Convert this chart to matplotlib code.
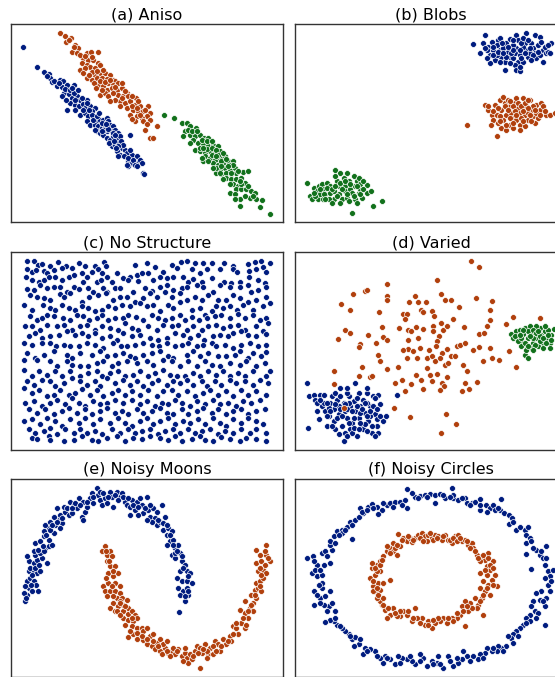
import numpy as np
import matplotlib
matplotlib.use("Agg")
import matplotlib.pyplot as plt

# point positions, in per-panel picture units
# (x to the right, y downward, frame box given in panel_box)

aniso_blue = [(68,140),(110,200),(132,217),(145,222),(148,235),(155,248),(180,240),(188,243),(170,258),(185,262),
    (200,255),(222,255),(190,280),(185,290),(205,283),(215,295),(230,290),(240,300),(210,310),(225,315),(200,332),
    (235,320),(250,312),(260,300),(255,325),(270,320),(285,325),(240,345),(255,340),(265,350),(275,335),(260,365),
    (280,355),(290,365),(300,360),(310,360),(320,355),(325,365),(270,375),(285,375),(295,380),(305,385),(315,380),
    (330,375),(340,380),(290,395),(300,400),(310,405),(320,395),(335,395),(345,390),(355,400),(320,415),(330,420),
    (340,410),(350,420),(360,410),(390,407),(335,440),(345,435),(355,430),(365,445),(375,450),(350,455),(360,465),
    (355,470),(380,460),(395,465),(410,470),(385,485),(395,490),(415,490),(420,480),(425,490),(385,500),(430,520),
    (432,525),
    (140,230),(160,245),(175,250),(195,268),(208,270),(220,280),(225,300),(245,295),(250,330),(262,310),(275,345),
    (278,360),(292,350),(305,370),(312,392),(325,388),(338,400),(345,405),(328,430),(342,425),(362,425),(370,435),
    (372,470),(385,475),(400,480),(405,495),(318,372),(298,340),(268,330),(232,270),(215,265),(198,300),(225,330),
    (285,390),(305,395),(355,440),(348,445),(390,450),(410,500),(380,495)]
aniso_orange = [(180,100),(195,107),(213,115),(197,125),(225,135),(232,145),(215,155),(230,158),(260,160),(272,157),
    (293,155),(250,175),(265,180),(280,180),(293,188),(245,190),(260,195),(270,200),(285,203),(300,195),(240,210),
    (300,220),(285,225),(315,220),(330,225),(260,235),(275,240),(290,235),(305,235),(320,238),(340,240),(345,245),
    (295,255),(310,258),(325,250),(340,255),(355,250),(320,270),(335,265),(350,270),(365,265),(380,280),(300,285),
    (315,280),(355,285),(370,290),(385,288),(408,295),(360,305),(375,310),(390,305),(405,315),(420,320),(445,320),
    (380,325),(400,330),(415,335),(430,335),(450,340),(390,345),(410,350),(440,350),(425,355),(405,365),(435,390),
    (470,380),(450,415),(460,415),
    (205,120),(220,140),(240,165),(255,168),(275,170),(255,205),(275,215),(292,212),(310,210),(268,225),(282,250),
    (300,245),(315,248),(330,240),(345,262),(305,270),(325,290),(340,280),(345,300),(365,295),(375,275),(360,320),
    (395,320),(410,325),(435,330),(420,345),(395,358),(430,365),(450,360),(440,372),(330,305),(395,290),(250,220),
    (288,265),(365,250),(415,305)]
aniso_green = [(493,346),(522,355),(545,370),(560,370),(570,380),(588,385),(555,395),(570,405),(585,410),(600,405),
    (612,415),(625,415),(550,410),(580,420),(595,430),(610,435),(625,440),(640,435),(655,440),(585,450),(600,455),
    (615,460),(630,455),(645,460),(660,455),(615,470),(630,475),(645,480),(660,475),(675,470),(610,485),(640,490),
    (655,495),(670,490),(685,485),(700,483),(660,510),(675,505),(690,510),(705,505),(650,520),(665,525),(680,520),
    (695,525),(710,520),(730,518),(745,515),(680,535),(695,540),(710,540),(725,535),(700,555),(715,560),(735,550),
    (710,570),(725,570),(740,570),(755,575),(765,580),(690,580),(705,583),(720,600),(750,595),(768,600),(788,603),
    (720,620),(782,623),(812,643),
    (565,390),(575,395),(590,395),(605,420),(620,425),(635,425),(570,430),(600,445),(620,448),(635,445),(650,450),
    (655,465),(670,460),(605,475),(625,485),(635,465),(650,470),(665,485),(680,478),(690,495),(650,505),(665,498),
    (700,495),(685,500),(715,515),(670,540),(725,555),(690,555),(745,560),(720,545),(735,590),(760,590),(705,598),
    (695,520),(640,505),(610,445),(660,520)]

blobs_blue = [(580,132),(615,105),(600,158),(610,130),(625,140),(635,125),(640,150),(630,165),(655,120),(660,115),
    (650,135),(660,150),(665,170),(645,180),(630,190),(680,130),(690,118),(695,140),(685,155),(690,170),(675,185),
    (700,175),(710,105),(715,120),(710,145),(705,160),(720,165),(715,185),(705,195),(708,210),(720,212),(740,100),
    (735,130),(740,150),(745,170),(730,185),(755,130),(760,145),(765,160),(770,175),(765,105),(780,110),(775,135),
    (790,150),(790,185),(800,160),(815,130),(805,155),(812,160),(620,175),(675,210),(730,140),(750,160),(700,135),
    (725,130),(650,165),(670,145),
    (620,150),(640,165),(655,155),(668,130),(680,170),(695,160),(700,120),(720,150),(725,175),(730,115),(745,120),
    (750,145),(760,165),(780,165),(785,125),(795,140),(660,185),(690,190),(720,200),(700,150),(640,140),(615,145),
    (775,155),(735,160),(685,140),(755,180),(805,135),(670,160)]
blobs_orange = [(560,375),(615,315),(625,330),(635,345),(640,360),(632,375),(650,410),(660,300),(670,292),(675,310),
    (665,330),(680,345),(670,360),(665,385),(685,300),(690,320),(695,340),(700,355),(690,375),(705,310),(715,325),
    (720,340),(710,360),(720,375),(730,295),(740,320),(735,345),(745,360),(735,380),(750,300),(755,330),(760,350),
    (765,370),(770,315),(780,330),(785,310),(790,320),(800,345),(810,345),(825,340),(700,385),(680,390),(655,370),
    (650,345),(725,355),(745,340),(760,320),(710,295),
    (625,320),(640,335),(645,315),(655,325),(660,350),(675,320),(685,330),(690,355),(700,320),(705,335),(710,345),
    (715,310),(725,320),(730,335),(735,310),(745,325),(750,345),(755,365),(770,340),(775,355),(780,345),(795,335),
    (765,330),(730,365),(700,370),(680,375),(660,365),(720,390),(745,300),(690,305)]
blobs_green = [(80,550),(90,590),(95,600),(100,565),(110,575),(115,560),(112,600),(125,555),(130,570),(135,585),
    (128,598),(140,550),(150,560),(150,580),(160,575),(160,600),(165,510),(170,545),(175,560),(175,585),(180,520),
    (185,600),(190,535),(195,560),(195,575),(200,595),(205,545),(210,570),(215,580),(215,642),(220,530),(225,560),
    (225,600),(230,545),(235,580),(240,570),(245,595),(235,535),(240,555),(260,580),(262,557),(272,576),(278,620),
    (307,606),(145,600),(120,585),
    (105,590),(118,570),(130,585),(140,565),(155,570),(165,560),(170,590),(180,550),(185,570),(195,545),(200,585),
    (210,555),(220,590),(230,560),(240,585),(250,570),(135,600),(155,610),(180,610),(205,605),(230,610),(250,545),
    (165,530),(200,520),(100,580)]

nostruct_blue = [
    (80,92),(100,92),(112,105),(125,103),(148,108),(172,97),(198,108),(235,100),(255,108),(285,107),(312,96),(318,108),
    (350,130),(405,105),(440,100),(465,110),(515,105),(543,97),(562,93),(585,100),(610,100),(635,100),(672,98),(700,108),
    (745,103),(765,97),(785,93),(790,110),(812,100),
    (80,118),(95,125),(108,120),(130,122),(140,128),(160,120),(185,115),(215,115),(245,130),(275,125),(295,118),(305,130),
    (370,145),(390,140),(410,135),(425,130),(445,128),(490,125),(530,115),(575,118),(600,128),(620,118),(660,118),
    (700,118),(712,125),(748,122),(770,118),(800,125),
    (78,142),(95,150),(115,155),(130,150),(145,142),(165,140),(185,150),(205,140),(220,135),(248,155),(260,140),(290,155),
    (302,150),(320,140),(335,155),(385,150),(415,152),(460,150),(480,140),(500,145),(520,142),(548,140),(565,155),
    (580,148),(605,155),(635,145),(672,155),(695,160),(720,155),(748,140),(775,150),(795,160),
    (80,178),(100,180),(120,165),(140,175),(160,170),(180,170),(200,185),(220,170),(238,178),(265,175),(280,185),(308,175),
    (320,185),(345,175),(360,175),(400,185),(435,175),(455,183),(480,172),(500,165),(520,180),(545,175),(560,172),
    (590,165),(610,170),(640,185),(660,165),(690,170),(720,170),(745,165),(755,185),(775,180),(800,170),
    (90,195),(110,200),(130,205),(148,210),(178,192),(190,200),(210,190),(245,215),(268,200),(295,195),(318,190),(340,210),
    (360,200),(380,200),(405,215),(428,205),(450,190),(470,200),(495,185),(515,200),(540,190),(562,210),(585,200),
    (605,210),(625,195),(655,210),(680,210),(700,195),(720,205),(745,218),(768,210),(800,200),(810,220),
    (72,225),(95,240),(128,225),(148,235),(165,240),(185,225),(205,235),(225,240),(245,228),(265,235),(285,245),(305,240),
    (325,230),(345,235),(365,225),(390,230),(420,220),(440,230),(460,225),(480,245),(505,225),(520,235),(540,215),
    (575,240),(600,235),(615,255),(635,245),(650,230),(670,235),(690,230),(712,240),(730,225),(760,240),(790,230),
    (90,260),(110,270),(125,265),(140,255),(160,260),(188,265),(210,270),(230,255),(250,260),(268,270),(290,265),(305,255),
    (325,270),(345,265),(368,265),(385,255),(408,262),(430,270),(455,255),(475,265),(495,270),(515,265),(540,255),
    (555,270),(575,262),(598,270),(620,265),(645,260),(665,255),(690,265),(715,252),(735,265),(760,255),(780,270),(800,265),
    (75,290),(95,290),(120,300),(140,285),(170,290),(190,285),(215,300),(240,290),(260,285),(285,300),(305,290),(330,295),
    (355,300),(375,280),(395,295),(415,300),(445,290),(470,300),(490,285),(515,290),(535,285),(560,300),(580,290),
    (605,300),(625,290),(650,285),(670,295),(690,290),(715,285),(735,300),(770,290),(790,305),(805,280),
    (85,320),(105,310),(125,325),(150,320),(175,315),(200,305),(225,315),(245,310),(265,320),(285,310),(305,325),(330,320),
    (350,330),(370,310),(395,320),(420,315),(450,325),(475,330),(500,325),(525,310),(548,315),(570,325),(595,315),
    (612,330),(640,320),(660,315),(685,320),(700,310),(725,305),(745,315),(770,320),(800,312),
    (70,340),(95,345),(125,340),(150,340),(168,350),(190,345),(210,350),(235,350),(260,340),(285,345),(310,355),(340,340),
    (362,350),(380,350),(405,345),(430,340),(455,345),(478,350),(500,340),(525,350),(545,345),(565,340),(590,350),
    (610,345),(635,340),(650,350),(675,345),(700,355),(725,345),(750,340),(775,350),(800,345),
    (80,370),(105,385),(130,375),(160,365),(200,375),(215,385),(240,370),(275,375),(300,365),(320,380),(345,375),(370,370),
    (390,380),(405,385),(430,375),(455,370),(480,365),(505,380),(520,385),(560,375),(580,365),(600,380),(625,370),
    (655,378),(680,380),(705,375),(720,365),(745,385),(760,370),(785,378),(800,368),
    (70,392),(110,390),(150,395),(170,410),(200,395),(215,405),(240,410),(265,410),(290,400),(310,395),(335,410),(355,400),
    (380,395),(410,400),(440,395),(460,405),(490,390),(515,395),(540,410),(565,395),(590,410),(615,395),(635,405),
    (660,410),(690,400),(720,405),(740,395),(770,410),(795,400),
    (70,420),(95,440),(115,425),(140,435),(165,425),(185,440),(210,425),(240,440),(265,430),(290,425),(305,440),(330,430),
    (355,425),(375,440),(400,435),(420,425),(445,440),(465,430),(490,420),(510,435),(530,440),(555,440),(580,430),
    (600,440),(625,425),(650,435),(670,425),(690,440),(715,430),(735,440),(760,425),(800,440),(810,425),
    (80,455),(100,465),(125,450),(150,455),(165,470),(190,460),(215,445),(240,455),(260,465),(285,455),(300,470),(320,445),
    (345,460),(370,450),(390,465),(410,455),(430,470),(455,460),(475,450),(500,465),(520,455),(540,460),(560,450),
    (580,465),(605,455),(620,470),(645,455),(665,465),(690,450),(710,460),(735,455),(760,465),(780,450),(805,460),
    (70,475),(95,490),(115,480),(140,500),(160,495),(180,480),(205,495),(225,490),(245,478),(270,495),(290,480),(310,500),
    (335,490),(355,480),(375,495),(395,485),(420,495),(445,480),(470,500),(490,485),(515,480),(535,495),(560,485),
    (585,500),(610,490),(630,480),(655,495),(680,485),(700,500),(725,480),(745,495),(770,485),(800,495),
    (75,520),(100,515),(125,530),(150,520),(170,510),(195,525),(215,505),(235,520),(255,530),(280,515),(300,525),(320,520),
    (345,510),(370,520),(395,510),(420,525),(440,515),(465,530),(485,520),(505,525),(525,510),(545,520),(570,530),
    (590,515),(615,525),(640,510),(660,525),(685,520),(710,530),(730,515),(755,520),(780,510),
    (85,540),(110,550),(135,540),(160,555),(185,545),(205,535),(230,550),(255,540),(275,555),(300,545),(320,535),(345,550),
    (365,545),(385,555),(410,540),(430,550),(455,545),(480,535),(500,550),(520,555),(545,540),(565,555),(590,545),
    (610,535),(635,550),(655,540),(680,555),(700,545),(725,540),(745,555),(770,545),(795,540),
    (70,575),(95,570),(120,585),(140,565),(165,575),(185,590),(210,570),(235,580),(255,565),(280,585),(300,570),(330,580),
    (355,565),(375,580),(395,590),(420,575),(440,565),(460,585),(480,575),(505,565),(525,585),(550,575),(570,580),
    (595,570),(615,585),(640,565),(660,580),(680,590),(700,570),(725,580),(745,565),(770,575),(790,585),
    (85,600),(105,610),(130,605),(150,595),(170,615),(195,600),(220,610),(240,600),(260,612),(285,605),(305,615),(335,600),
    (360,610),(385,600),(405,612),(425,605),(450,598),(475,615),(495,605),(520,600),(540,612),(565,600),(585,612),
    (605,605),(630,600),(655,615),(675,605),(700,610),(725,600),(750,612),(770,600),(800,610),
    (95,625),(110,630),(145,620),(150,632),(190,635),(220,633),(245,620),(275,632),(295,635),(320,625),(350,620),(375,635),
    (400,625),(425,630),(450,620),(480,625),(505,632),(525,620),(545,635),(575,628),(600,620),(615,632),(640,635),
    (665,622),(690,630),(720,635),(740,625),(770,630),(800,635)]

varied_blue = [(80,460),(83,597),(85,500),(100,495),(105,510),(110,520),(120,495),(125,530),(115,570),(135,545),
    (140,590),(145,560),(150,520),(155,500),(160,540),(160,575),(165,490),(170,510),(175,530),(175,555),(180,475),
    (185,590),(190,520),(190,635),(195,545),(200,565),(205,500),(210,530),(210,600),(215,580),(220,515),(225,545),
    (225,460),(230,620),(235,490),(235,565),(240,530),(245,590),(250,510),(255,550),(260,490),(265,575),(270,530),
    (275,610),(280,500),(285,555),(290,590),(295,495),(295,610),(300,525),(310,575),(318,560),(285,620),(250,600),
    (215,610),(195,610),(165,600),(130,520),(145,535),(205,520),(230,505),(260,520),(240,550),(180,500),(200,490),
    (270,560),(255,585),(350,497),
    (120,510),(140,520),(150,545),(165,525),(170,565),(180,540),(185,560),(195,525),(200,540),(205,580),(215,545),
    (220,565),(230,530),(240,580),(245,540),(255,520),(260,560),(270,545),(275,590),(280,530),(290,540),(290,570),
    (300,560),(220,595),(235,600),(260,605),(200,620),(175,615),(155,590),(140,560),(110,545),(130,495),(200,475),
    (260,475),(285,505)]
varied_orange = [(192,537),(573,92),(598,111),(472,150),(320,163),(218,191),(255,183),(262,181),(320,197),(322,209),
    (482,191),(404,197),(183,222),(210,242),(298,247),(387,215),(413,218),(437,215),(496,210),(512,211),(588,204),
    (637,213),(536,232),(631,242),(368,252),(380,252),(422,240),(430,248),(455,245),(462,258),(374,269),(518,268),
    (630,272),(195,300),(208,311),(172,328),(240,343),(236,352),(265,316),(306,292),(310,322),(320,330),(289,340),
    (358,294),(384,300),(408,293),(430,299),(415,325),(392,305),(385,330),(460,290),(460,305),(482,280),(490,300),
    (478,318),(470,333),(500,290),(552,291),(597,312),(611,311),(622,290),(680,284),(700,262),(780,265),(383,357),
    (370,360),(400,365),(420,355),(448,362),(468,350),(485,370),(500,357),(512,380),(525,380),(530,350),(540,345),
    (555,340),(580,362),(598,353),(630,355),(688,364),(380,385),(410,385),(440,385),(455,380),(465,395),(480,385),
    (495,405),(505,400),(548,405),(560,425),(610,395),(635,385),(657,392),(295,375),(300,393),(245,412),(160,423),
    (236,438),(270,441),(277,438),(322,418),(354,413),(407,435),(442,415),(450,435),(472,432),(500,443),(423,450),
    (455,453),(485,460),(492,470),(365,450),(345,460),(392,463),(160,462),(375,483),(430,478),(480,480),(545,483),
    (555,460),(567,478),(590,456),(342,537),(390,564),(497,555),(528,584),(482,611),(710,413)]
varied_green = [(693,312),(710,305),(715,320),(720,300),(725,335),(730,312),(735,295),(740,345),(745,325),(735,375),
    (745,385),(750,290),(755,310),(760,340),(765,300),(770,325),(775,350),(780,295),(785,315),(790,340),(795,305),
    (800,325),(805,300),(810,340),(815,315),(822,298),(755,355),(790,355),(760,325),(725,350),(700,325),(740,360),
    (780,335),(770,290),(810,355),
    (705,320),(715,335),(725,325),(735,340),(745,305),(750,320),(760,300),(765,345),(770,310),(780,320),(790,325),
    (800,340),(795,290),(805,315),(815,330),(745,350),(730,300),(760,360),(775,305),(720,315)]

moons_blue = [(75,440),(80,420),(70,415),(85,400),(95,410),(80,380),(90,370),(100,380),(112,410),(85,350),(100,350),
    (110,355),(120,350),(85,320),(100,325),(110,315),(125,310),(140,325),(80,305),(105,300),(120,295),(135,280),
    (145,275),(105,265),(120,260),(130,245),(145,255),(130,230),(145,220),(160,235),(135,210),(150,200),(165,210),
    (175,195),(185,205),(160,185),(180,180),(195,170),(205,180),(170,160),(190,155),(210,140),(220,150),(230,160),
    (235,130),(250,140),(245,185),(255,170),(260,155),(270,130),(275,115),(280,145),(290,100),(295,120),(300,135),
    (305,150),(315,130),(320,145),(330,110),(335,125),(340,155),(350,110),(360,125),(365,115),(375,140),(380,150),
    (390,155),(395,135),(390,180),(405,165),(410,140),(420,130),(425,150),(430,175),(440,125),(445,165),(450,185),
    (460,160),(465,190),(470,210),(480,200),(485,150),(490,225),(495,185),(500,240),(505,220),(515,230),(510,260),
    (520,255),(525,280),(535,270),(540,295),(515,300),(525,310),(545,320),(555,330),(540,350),(560,350),(570,355),
    (530,370),(545,380),(560,380),(575,385),(535,400),(550,410),(565,420),(555,440),(537,472),(560,400),(525,295),
    (500,270),(455,200),(440,195),(415,180),(250,195),(215,175),(180,220),(155,270),(130,290),(100,290),(90,340),
    (75,395),(108,390),
    (78,430),(92,390),(95,360),(105,340),(115,330),(112,285),(128,275),(138,240),(150,225),(155,210),(170,200),
    (185,190),(200,160),(215,160),(225,145),(240,150),(262,140),(280,125),(300,110),(310,115),(325,125),(345,120),
    (355,135),(370,125),(385,130),(400,150),(415,155),(435,160),(450,150),(470,170),(475,195),(490,205),(500,210),
    (510,240),(520,270),(530,290),(545,305),(550,340),(565,365),(540,420),(555,425),(565,410)]
moons_orange = [(315,275),(305,290),(320,300),(330,290),(335,305),(320,320),(330,335),(345,335),(325,355),(340,365),
    (355,355),(310,395),(325,385),(345,385),(360,395),(315,410),(330,410),(345,410),(360,415),(350,430),(365,430),
    (380,435),(340,445),(355,455),(370,450),(385,460),(330,460),(345,470),(370,470),(385,478),(395,470),(405,480),
    (370,490),(385,495),(400,500),(410,490),(375,510),(395,515),(410,520),(425,520),(385,548),(400,540),(420,540),
    (430,530),(410,555),(430,558),(450,545),(460,540),(440,570),(455,575),(470,565),(480,555),(465,585),(480,590),
    (495,580),(505,595),(490,570),(515,590),(525,600),(535,585),(545,605),(555,595),(560,610),(565,625),(555,580),
    (570,600),(575,615),(585,590),(590,575),(600,580),(600,640),(605,595),(615,570),(625,600),(630,580),(645,560),
    (655,570),(660,590),(670,555),(680,570),(690,545),(695,560),(700,515),(710,520),(715,540),(725,505),(735,520),
    (740,510),(720,465),(735,475),(745,490),(750,460),(760,445),(770,430),(755,420),(765,405),(775,400),(785,410),
    (770,385),(780,380),(790,370),(775,350),(790,345),(800,355),(770,325),(785,320),(800,300),(780,300),(795,290),
    (812,318),(770,285),(800,270),(735,440),(760,470),(640,600),(620,590),(520,580),(500,560),(440,520),(360,440),
    (318,290),(328,320),(338,350),(318,370),(335,395),(320,425),(340,425),(360,445),(375,455),(350,470),(360,480),
    (395,490),(390,530),(410,535),(425,545),(440,555),(460,560),(475,575),(485,600),(500,590),(510,605),(530,590),
    (550,620),(580,605),(595,595),(610,585),(620,610),(640,575),(650,590),(665,575),(685,560),(700,540),(710,505),
    (730,490),(745,470),(755,450),(765,420),(780,395),(785,360),(795,330),(805,310),(780,340)]

circles_blue = [(380,103),(517,100),(405,125),(420,122),(435,120),(450,118),(465,120),(480,118),(495,128),(520,130),
    (535,135),(555,130),(560,145),(575,145),(585,140),(600,133),(617,150),(630,160),(640,150),(660,165),(665,132),
    (620,170),(672,175),(688,180),(698,190),(688,207),(710,227),(735,225),(745,215),(740,240),(750,250),(740,265),
    (738,297),(755,343),(770,285),(780,300),(790,310),(795,330),(800,275),(805,350),(810,365),(820,345),(795,370),
    (805,390),(810,410),(785,410),(770,415),(780,435),(760,440),(755,455),(765,468),(775,475),(795,455),(795,510),
    (750,480),(740,490),(750,500),(730,510),(720,520),(710,530),(700,540),(695,550),(685,545),(680,575),(665,580),
    (655,575),(650,590),(635,590),(620,580),(615,595),(600,600),(595,615),(580,605),(560,605),(548,590),(545,615),
    (535,625),(520,635),(505,605),(490,640),(475,605),(470,625),(455,620),(440,635),(430,610),(420,600),(405,630),
    (395,620),(380,615),(365,610),(355,605),(345,630),(330,615),(315,605),(310,625),(300,610),(285,590),(270,585),
    (255,580),(250,598),(235,570),(220,575),(215,555),(225,548),(205,540),(195,530),(185,520),(170,510),(160,500),
    (150,495),(135,503),(165,470),(145,455),(155,445),(130,450),(120,430),(135,425),(102,452),(125,400),(150,408),
    (100,410),(125,385),(110,365),(125,360),(95,355),(130,330),(110,330),(148,325),(80,310),(98,305),(125,295),
    (135,290),(155,285),(150,270),(148,260),(160,245),(170,228),(185,225),(200,215),(185,235),(215,252),(210,200),
    (225,195),(235,185),(250,175),(240,160),(265,155),(275,148),(290,155),(305,165),(295,178),(320,150),(330,145),
    (345,140),(360,140),(375,135),(380,160),(465,145),(520,120),(600,165),
    (395,115),(415,130),(440,125),(490,120),(510,125),(545,130),(570,150),(600,150),(645,165),(655,160),(700,200),
    (720,215),(755,260),(760,280),(785,290),(800,310),(815,380),(800,430),(790,440),(770,490),(740,505),(715,545),
    (700,565),(670,590),(640,580),(610,610),(570,620),(530,610),(510,620),(480,630),(460,630),(420,620),(390,605),
    (360,625),(320,610),(290,605),(260,590),(240,555),(210,545),(180,515),(165,490),(140,470),(120,445),(110,420),
    (115,390),(105,345),(120,345),(100,320),(140,305),(165,265),(175,240),(195,225),(215,210),(245,170),(260,165),
    (280,160),(310,145),(340,155),(365,150)]
circles_orange = [(355,238),(370,250),(380,260),(395,262),(405,250),(415,240),(425,235),(435,245),(445,240),(455,250),
    (465,240),(475,245),(485,255),(495,240),(505,255),(515,265),(525,245),(535,240),(545,260),(555,255),(565,270),
    (575,265),(580,280),(590,300),(605,305),(615,315),(625,295),(640,320),(620,335),(630,345),(645,360),(635,375),
    (650,395),(620,360),(600,355),(610,380),(625,390),(600,400),(615,410),(630,420),(605,430),(595,450),(585,430),
    (570,445),(555,440),(545,455),(565,470),(610,480),(540,480),(530,490),(515,490),(500,505),(490,490),(480,500),
    (465,505),(455,520),(445,500),(435,510),(425,490),(410,490),(395,500),(405,460),(380,480),(370,470),(360,485),
    (350,485),(340,460),(330,480),(320,490),(315,465),(305,450),(300,440),(310,430),(290,430),(285,410),(300,405),
    (280,395),(295,385),(310,385),(330,375),(270,370),(285,360),(300,350),(275,340),(290,330),(275,325),(300,320),
    (310,305),(320,290),(330,280),(340,290),(350,300),(320,275),(340,265),(360,275),(555,515),(440,260),(390,250),
    (510,255),(600,320),
    (365,255),(385,245),(400,255),(420,250),(430,260),(450,235),(460,255),(470,250),(490,245),(520,250),(530,260),
    (540,250),(560,260),(570,280),(585,290),(595,310),(610,300),(625,310),(630,330),(640,340),(615,345),(640,390),
    (620,400),(610,420),(600,440),(590,460),(575,460),(560,455),(550,470),(530,475),(520,500),(505,490),(475,490),
    (460,495),(445,510),(420,505),(400,490),(385,470),(360,470),(345,475),(325,460),(310,450),(295,420),(280,410),
    (290,400),(280,380),(290,350),(285,340),(300,330),(305,315),(330,295),(345,280),(350,270)]

titles = ["(a) Aniso", "(b) Blobs", "(c) No Structure", "(d) Varied", "(e) Noisy Moons", "(f) Noisy Circles"]
panels = [
    [aniso_blue, aniso_orange, aniso_green],
    [blobs_blue, blobs_orange, blobs_green],
    [nostruct_blue],
    [varied_blue, varied_orange, varied_green],
    [moons_blue, moons_orange],
    [circles_blue, circles_orange],
]
# frame box (left, right, top, bottom) in the same units as the points
panel_box = [(32, 850, 72, 668), (44, 862, 72, 668), (32, 850, 66, 662),
             (44, 862, 66, 662), (32, 850, 72, 668), (44, 862, 72, 668)]
colors = ["#001c7f", "#b1400d", "#12711c"]

W, H = 555, 677
fig = plt.figure(figsize=(W / 100, H / 100), dpi=100)

col_left = [11, 295]
row_top = [24, 252, 479]
aw, ah = 272, 198

for i, (clusters, title, box) in enumerate(zip(panels, titles, panel_box)):
    r, c = divmod(i, 2)
    x0 = col_left[c] / W
    y0 = 1 - (row_top[r] + ah) / H
    ax = fig.add_axes([x0, y0, aw / W, ah / H])
    for k, pts in enumerate(clusters):
        p = np.array(pts, dtype=float)
        ax.scatter(p[:, 0], p[:, 1], s=18, color=colors[k],
                   edgecolors="white", linewidths=0.5, zorder=2)
    ax.set_xlim(box[0], box[1])
    ax.set_ylim(box[3], box[2])
    ax.set_xticks([])
    ax.set_yticks([])
    for sp in ax.spines.values():
        sp.set_color("#333333")
        sp.set_linewidth(1.0)
    ax.set_title(title, fontsize=11.5, pad=3.5)

fig.savefig("out.png", dpi=100)
